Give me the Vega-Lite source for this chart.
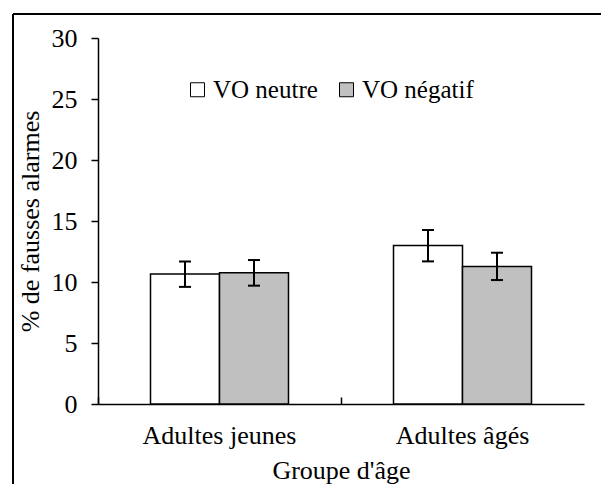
{
  "$schema": "https://vega.github.io/schema/vega-lite/v6.json",
  "width": 588,
  "height": 470,
  "autosize": {"type": "none"},
  "padding": {"left": 13, "top": 14, "right": 0, "bottom": 0},
  "background": "white",
  "config": {
    "view": {"stroke": "black", "strokeWidth": 2, "strokeDash": [588, 1058, 470, 0]},
    "font": "Liberation Serif",
    "axis": {"labelFont": "Liberation Serif", "titleFont": "Liberation Serif", "labelColor": "black", "titleColor": "black", "titleFontWeight": "normal", "domainColor": "black", "tickColor": "black", "grid": false},
    "legend": {"labelFont": "Liberation Serif", "titleFont": "Liberation Serif"}
  },
  "data": {
    "values": [
      {"groupe": "Adultes jeunes", "vo": "VO neutre", "pct": 10.65, "lo": 9.6, "hi": 11.68},
      {"groupe": "Adultes jeunes", "vo": "VO négatif", "pct": 10.76, "lo": 9.7, "hi": 11.8},
      {"groupe": "Adultes âgés", "vo": "VO neutre", "pct": 13.0, "lo": 11.69, "hi": 14.26},
      {"groupe": "Adultes âgés", "vo": "VO négatif", "pct": 11.28, "lo": 10.16, "hi": 12.4}
    ]
  },
  "encoding": {
    "x": {
      "field": "groupe", "type": "nominal", "sort": ["Adultes jeunes", "Adultes âgés"],
      "scale": {"range": [85, 571], "paddingInner": 0, "paddingOuter": 0},
      "axis": {
        "title": "Groupe d'âge", "labelAngle": 0, "labelFontSize": 26, "titleFontSize": 26,
        "offset": -80, "bandPosition": 0, "tickSize": -7, "tickWidth": 1.5, "domainWidth": 1.5,
        "labelPadding": 25, "titleY": 74, "titleBaseline": "alphabetic"
      }
    },
    "xOffset": {
      "field": "vo", "type": "nominal", "sort": ["VO neutre", "VO négatif"],
      "scale": {"paddingInner": 0, "paddingOuter": 0.7609}
    }
  },
  "layer": [
    {
      "mark": {"type": "bar", "stroke": "black", "strokeWidth": 1.5},
      "encoding": {
        "y": {
          "field": "pct", "type": "quantitative",
          "scale": {"domain": [0, 30], "range": [390, 24], "nice": false, "zero": true},
          "axis": {
            "title": "% de fausses alarmes", "values": [0, 5, 10, 15, 20, 25, 30],
            "labelFontSize": 26, "titleFontSize": 26, "offset": -85, "tickSize": 7,
            "tickWidth": 1.5, "domainWidth": 1.5, "labelPadding": 14, "titlePadding": 8
          }
        },
        "fill": {
          "field": "vo", "type": "nominal", "sort": ["VO neutre", "VO négatif"],
          "scale": {"domain": ["VO neutre", "VO négatif"], "range": ["white", "#C0C0C0"]},
          "legend": {
            "title": null, "orient": "none", "direction": "horizontal",
            "legendX": 172, "legendY": 63, "symbolType": "square", "symbolSize": 196,
            "symbolStrokeColor": "black", "symbolStrokeWidth": 1, "symbolOpacity": 1,
            "labelFontSize": 25, "labelColor": "black",
            "labelOffset": 3, "columnPadding": 16, "padding": 0
          }
        }
      }
    },
    {
      "mark": {"type": "rule", "strokeWidth": 2, "color": "black"},
      "encoding": {
        "y": {"field": "lo", "type": "quantitative"},
        "y2": {"field": "hi"}
      }
    },
    {
      "mark": {"type": "tick", "orient": "horizontal", "size": 12, "thickness": 2, "color": "black", "opacity": 1},
      "encoding": {"y": {"field": "lo", "type": "quantitative"}}
    },
    {
      "mark": {"type": "tick", "orient": "horizontal", "size": 12, "thickness": 2, "color": "black", "opacity": 1},
      "encoding": {"y": {"field": "hi", "type": "quantitative"}}
    }
  ]
}
